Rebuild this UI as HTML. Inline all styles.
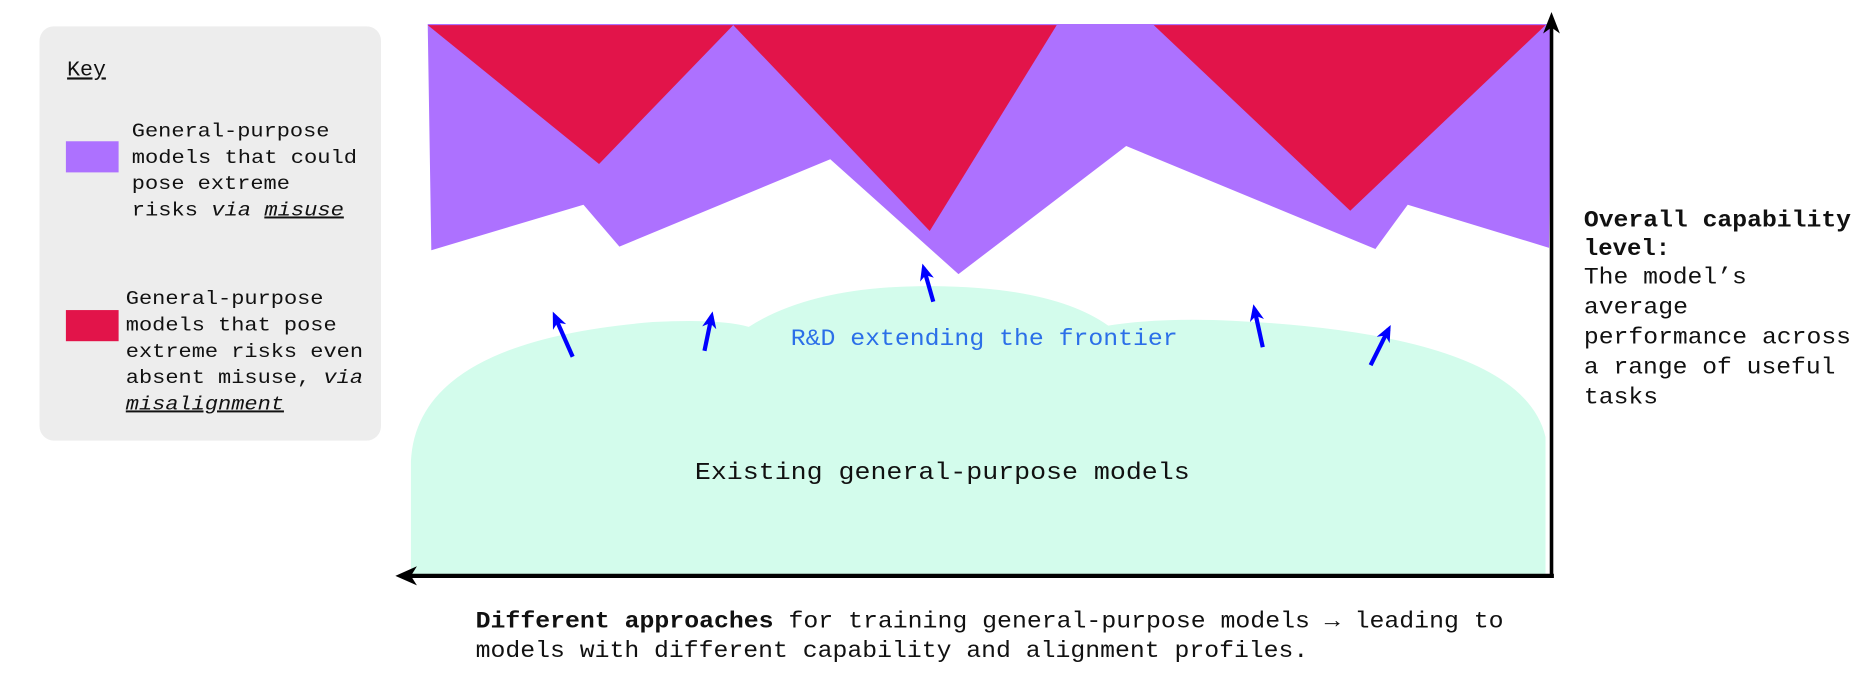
<!DOCTYPE html>
<html><head><meta charset="utf-8"><style>
html,body{margin:0;padding:0;background:#fff;}
svg{display:block;}
text{font-family:"Liberation Mono",monospace;fill:#111;}
</style></head><body>
<svg width="1869" height="680" viewBox="0 0 1560 568" preserveAspectRatio="none" xmlns="http://www.w3.org/2000/svg">
<defs>
<marker id="ab" markerWidth="14" markerHeight="12" refX="10" refY="6" orient="auto" markerUnits="userSpaceOnUse"><path d="M0,0 L14,6 L0,12 L4,6 Z" fill="#0000ff"/></marker>
</defs>
<rect x="33" y="22" width="285" height="346" rx="12" fill="#ededed"/>
<text x="56" y="63" font-size="18" text-decoration="underline">Key</text>
<rect x="55" y="118" width="44" height="26" fill="#ad71ff"/>
<g font-size="16.5">
<text x="110" y="114" textLength="165" lengthAdjust="spacingAndGlyphs">General-purpose</text>
<text x="110" y="136" textLength="188" lengthAdjust="spacingAndGlyphs">models that could</text>
<text x="110" y="158" textLength="132" lengthAdjust="spacingAndGlyphs">pose extreme</text>
<text x="110" y="180" textLength="177" lengthAdjust="spacingAndGlyphs">risks <tspan font-style="italic">via</tspan> <tspan font-style="italic" text-decoration="underline">misuse</tspan></text>
</g>
<rect x="55" y="259" width="44" height="26" fill="#e2144a"/>
<g font-size="16.5">
<text x="105" y="254" textLength="165" lengthAdjust="spacingAndGlyphs">General-purpose</text>
<text x="105" y="276" textLength="176" lengthAdjust="spacingAndGlyphs">models that pose</text>
<text x="105" y="298" textLength="198" lengthAdjust="spacingAndGlyphs">extreme risks even</text>
<text x="105" y="320" textLength="198" lengthAdjust="spacingAndGlyphs">absent misuse, <tspan font-style="italic">via</tspan></text>
<text x="105" y="342" textLength="132" lengthAdjust="spacingAndGlyphs" font-style="italic" text-decoration="underline">misalignment</text>
</g>
<polygon points="357,20 1295,20 1293,207 1175,171 1148,208 940,122 800,229 693,133 517,206 487,171 360,209" fill="#ad71ff"/>
<polygon points="357,21 612,21 500,137" fill="#e2144a"/>
<polygon points="612,21 882,21 776,193" fill="#e2144a"/>
<polygon points="963,21 1290,21 1127,176" fill="#e2144a"/>
<path d="M343,480 L343,385 Q348,285 545,269 Q600,266 625,273 Q680,238 780,239 Q880,240 925,272 Q970,265 1030,268 Q1270,280 1290,365 L1290,480 Z" fill="#d3fcec"/>
<g stroke="#0000ff" stroke-width="3.5" marker-end="url(#ab)">
<line x1="478" y1="298" x2="463" y2="264"/>
<line x1="588" y1="293" x2="594" y2="264"/>
<line x1="779" y1="252" x2="771" y2="224"/>
<line x1="1054" y1="290" x2="1047" y2="258"/>
<line x1="1144" y1="305" x2="1159" y2="275"/>
</g>
<text x="660" y="288" font-size="19" textLength="323" lengthAdjust="spacingAndGlyphs" style="fill:#2b6fe8">R&amp;D extending the frontier</text>
<text x="580" y="400" font-size="20" textLength="413" lengthAdjust="spacingAndGlyphs">Existing general-purpose models</text>
<line x1="1295" y1="482" x2="1295" y2="20" stroke="#000" stroke-width="3"/>
<polygon points="1295,10 1288,28 1295,23 1302,28" fill="#000"/>
<line x1="1297" y1="481" x2="340" y2="481" stroke="#000" stroke-width="3.5"/>
<polygon points="330,481 348,473 343,481 348,489" fill="#000"/>
<g font-size="19">
<text x="1322" y="189" font-weight="bold" textLength="223" lengthAdjust="spacingAndGlyphs">Overall capability</text>
<text x="1322" y="213" font-weight="bold" textLength="72" lengthAdjust="spacingAndGlyphs">level:</text>
<text x="1322" y="237" textLength="136" lengthAdjust="spacingAndGlyphs">The model’s</text>
<text x="1322" y="262" textLength="87" lengthAdjust="spacingAndGlyphs">average</text>
<text x="1322" y="287" textLength="223" lengthAdjust="spacingAndGlyphs">performance across</text>
<text x="1322" y="312" textLength="210" lengthAdjust="spacingAndGlyphs">a range of useful</text>
<text x="1322" y="337" textLength="62" lengthAdjust="spacingAndGlyphs">tasks</text>
<text x="397" y="524" textLength="858" lengthAdjust="spacingAndGlyphs"><tspan font-weight="bold">Different approaches</tspan> for training general-purpose models → leading to</text>
<text x="397" y="549" textLength="695" lengthAdjust="spacingAndGlyphs">models with different capability and alignment profiles.</text>
</g>
</svg>
</body></html>
